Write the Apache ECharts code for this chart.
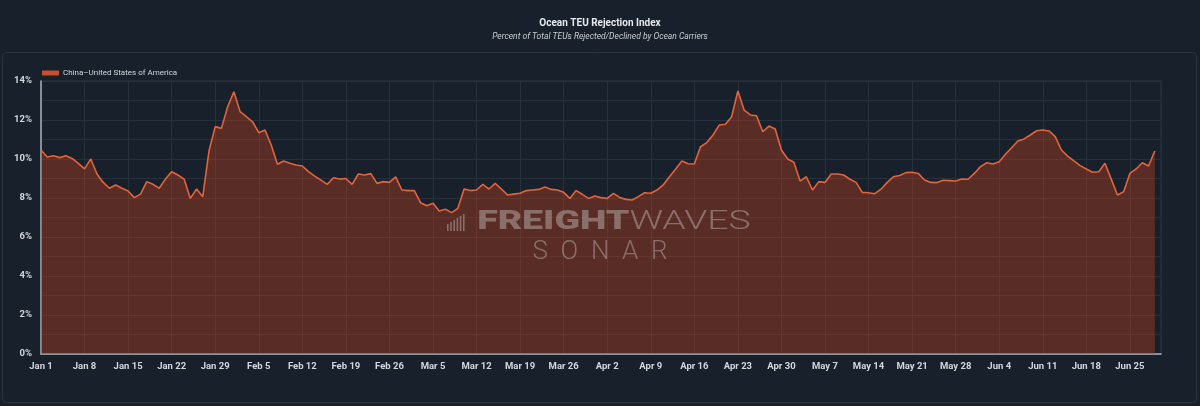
<!DOCTYPE html>
<html>
<head>
<meta charset="utf-8">
<title>Ocean TEU Rejection Index</title>
<script src="https://cdn.jsdelivr.net/npm/echarts@6.0.0/dist/echarts.min.js"></script>
<style>
    html, body { margin: 0; padding: 0; background: #17202b; }
    #chart0 { width: 1200px; height: 406px; }
</style>
</head>
<body>
<div id="chart0"></div>
<script>
// daily index values, % of TEUs rejected, Jan 1 .. Jun 29
var janValues = [10.46, 10.1, 10.17, 10.07, 10.17, 10.03, 9.78, 9.49, 10.0, 9.23, 8.8, 8.5, 8.67, 8.5, 8.36, 8.02,
    8.2, 8.84, 8.7, 8.5, 8.97, 9.35, 9.18, 8.97, 7.98, 8.46, 8.07, 10.41, 11.66, 11.57, 12.68];
var febValues = [13.45, 12.43, 12.17, 11.91, 11.35, 11.49, 10.72, 9.73, 9.9, 9.78, 9.69, 9.64, 9.35, 9.12, 8.92, 8.7,
    9.04, 8.97, 9.0, 8.7, 9.23, 9.18, 9.25, 8.75, 8.84, 8.8, 9.08, 8.41];
var marValues = [8.38, 8.38, 7.76, 7.6, 7.73, 7.33, 7.42, 7.25, 7.47, 8.46, 8.38, 8.41, 8.7, 8.46, 8.75, 8.46,
    8.15, 8.2, 8.24, 8.38, 8.41, 8.44, 8.56, 8.44, 8.41, 8.29, 7.98, 8.38, 8.19, 7.98, 8.1];
var aprValues = [8.02, 7.98, 8.24, 8.03, 7.93, 7.9, 8.07, 8.27, 8.24, 8.41, 8.67, 9.09, 9.49, 9.9, 9.76, 9.74,
    10.63, 10.84, 11.23, 11.74, 11.78, 12.17, 13.49, 12.51, 12.26, 12.22, 11.4, 11.69, 11.54, 10.46];
var mayValues = [10.0, 9.83, 8.87, 9.09, 8.41, 8.84, 8.8, 9.23, 9.23, 9.18, 8.96, 8.8, 8.29, 8.27, 8.22, 8.45,
    8.8, 9.09, 9.15, 9.3, 9.32, 9.26, 8.92, 8.8, 8.79, 8.91, 8.89, 8.87, 8.97, 8.96, 9.26];
var junValues = [9.61, 9.81, 9.74, 9.86, 10.24, 10.58, 10.92, 11.03, 11.23, 11.45, 11.49, 11.44, 11.15, 10.46,
    10.15, 9.9, 9.66, 9.49, 9.32, 9.35, 9.78, 8.97, 8.15, 8.32, 9.26, 9.49, 9.81, 9.64, 10.41];

// month names and day counts for the category axis (axis runs to Jun 30)
var monthNames = ['Jan', 'Feb', 'Mar', 'Apr', 'May', 'Jun'];
var monthDays = [31, 28, 31, 30, 31, 30];
var seriesName = 'China\u2013United States of America';

var rejectValues = [].concat(janValues, febValues, marValues, aprValues, mayValues, junValues);

var dayLabels = [];
for (var m = 0; m < monthNames.length; m++) {
    for (var d = 1; d <= monthDays[m]; d++) {
        dayLabels.push(monthNames[m] + ' ' + d);
    }
}

var labelColor = '#d3d7dc';
var gridColor = '#27313c';
var markColor = 'rgba(205,200,200,0.42)';

// little bar icon in front of the watermark
var logoBars = [];
var barHeights = [7, 9, 11, 13, 15, 17];
for (var i = 0; i < barHeights.length; i++) {
    logoBars.push({
        type: 'rect',
        silent: true,
        z: 100,
        shape: {x: 447 + i * 3.2, y: 231 - barHeights[i], width: 1.6, height: barHeights[i]},
        style: {fill: markColor}
    });
}

var option0 = {
    backgroundColor: '#17202b',
    animation: false,
    title: {
        text: 'Ocean TEU Rejection Index',
        subtext: 'Percent of Total TEUs Rejected/Declined by Ocean Carriers',
        left: 'center',
        top: 13,
        itemGap: 4,
        textStyle: {
            color: '#e6e8eb',
            fontSize: 10,
            fontWeight: 'bold',
            fontFamily: 'Roboto'
        },
        subtextStyle: {
            color: '#c9cdd2',
            fontSize: 8.5,
            fontStyle: 'italic',
            fontFamily: 'Roboto'
        }
    },
    legend: {
        left: 37,
        top: 64,
        itemWidth: 17,
        itemHeight: 5,
        itemGap: 4,
        icon: 'rect',
        data: [seriesName],
        textStyle: {
            color: labelColor,
            fontSize: 8,
            fontFamily: 'Roboto',
            padding: [0, 0, 0, -1]
        }
    },
    grid: {
        left: 41,
        right: 39,
        top: 81,
        bottom: 52,
        show: true,
        borderColor: '#2e3843',
        borderWidth: 1
    },
    graphic: [
        {
            type: 'rect',
            silent: true,
            shape: {x: 2.5, y: 52.5, width: 1194, height: 350, r: 4},
            style: {fill: 'none', stroke: '#2b3540', lineWidth: 1}
        },
        {
            type: 'text',
            silent: true,
            z: 100,
            x: 614,
            y: 223,
            scaleX: 1.5,
            style: {
                x: 0,
                y: 0,
                align: 'center',
                verticalAlign: 'middle',
                text: '{b|FREIGHT}{l|WAVES}',
                rich: {
                    b: {fontSize: 25, fontWeight: 900, fontFamily: 'Roboto', fill: markColor},
                    l: {fontSize: 25, fontWeight: 300, fontFamily: 'Roboto', fill: markColor}
                }
            }
        },
        {
            type: 'text',
            silent: true,
            z: 100,
            x: 600,
            y: 252,
            style: {
                x: 0,
                y: 0,
                align: 'center',
                verticalAlign: 'middle',
                text: 'S  O  N  A  R',
                fontSize: 26,
                fontWeight: 300,
                fontFamily: 'Roboto',
                fill: markColor
            }
        }
    ].concat(logoBars),
    xAxis: {
        type: 'category',
        boundaryGap: false,
        data: dayLabels,
        axisLine: {lineStyle: {color: '#aab1b9', width: 1.5}},
        axisTick: {show: false},
        axisLabel: {
            interval: 6,
            color: labelColor,
            fontSize: 9.5,
            fontWeight: 'bold',
            fontFamily: 'Roboto',
            margin: 8
        },
        splitLine: {
            show: true,
            interval: 6,
            lineStyle: {color: gridColor, width: 1}
        }
    },
    yAxis: {
        type: 'value',
        min: 0,
        max: 14,
        interval: 1,
        axisLine: {show: true, lineStyle: {color: '#aab1b9', width: 1.5}},
        axisTick: {show: false},
        axisLabel: {
            color: labelColor,
            fontSize: 9.5,
            fontWeight: 'bold',
            fontFamily: 'Roboto',
            margin: 9,
            formatter: function (v) {
                return v % 2 === 0 ? v + '%' : '';
            }
        },
        splitLine: {lineStyle: {color: gridColor, width: 1}}
    },
    series: [
        {
            name: seriesName,
            type: 'line',
            data: rejectValues,
            symbol: 'none',
            smooth: false,
            lineStyle: {color: '#e2643c', width: 1.6},
            itemStyle: {color: '#c4502f'},
            areaStyle: {color: 'rgba(190,65,30,0.4)', opacity: 1}
        }
    ]
};

var myChart0 = echarts.init(document.getElementById('chart0'));
myChart0.setOption(option0);
</script>
</body>
</html>
